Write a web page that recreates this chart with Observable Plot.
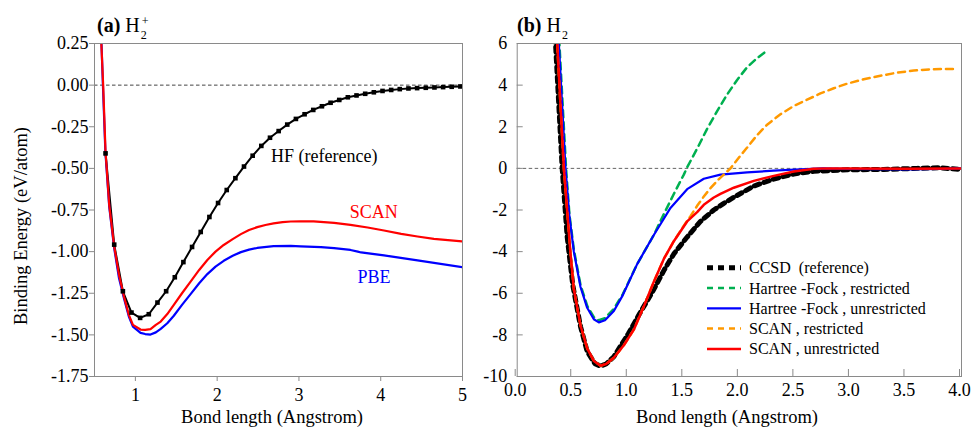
<!DOCTYPE html>
<html><head><meta charset="utf-8">
<script src="https://cdn.jsdelivr.net/npm/d3@7"></script>
<script src="https://cdn.jsdelivr.net/npm/@observablehq/plot@0.6"></script>
<style>
body{margin:0;background:#fff;}
#wrap{position:relative;width:971px;height:430px;font-family:"Liberation Serif","Times New Roman",serif;color:#000;overflow:hidden;background:#fff}
.pan{position:absolute;top:0}
.title{position:absolute;top:15px;font-size:20px;line-height:20px;white-space:nowrap}
.ss{position:relative;display:inline-block;width:9px;height:10px}
.sp{position:absolute;left:2px;bottom:5px;font-size:12px;line-height:12px}
.sb{position:absolute;left:1px;top:7px;font-size:12px;line-height:12px}
.xt{position:absolute;top:407px;width:300px;text-align:center;font-size:18.5px;line-height:20px;white-space:nowrap}
.yt{position:absolute;left:-139px;top:215.5px;width:320px;text-align:center;font-size:18.5px;line-height:20px;transform:rotate(-90deg);white-space:nowrap}
</style></head>
<body>
<div id="wrap">
  <div id="pa" class="pan" style="left:0px"></div>
  <div id="pb" class="pan" style="left:480px"></div>
  <div class="title" style="left:97px"><b>(a)</b> H<span class="ss"><span class="sp">+</span><span class="sb">2</span></span></div>
  <div class="title" style="left:517px"><b>(b)</b> H<span class="ss"><span class="sb">2</span></span></div>
  <div class="xt" style="left:122px">Bond length (Angstrom)</div>
  <div class="xt" style="left:577px">Bond length (Angstrom)</div>
  <div class="yt">Binding Energy (eV/atom)</div>
  <svg id="leg" style="position:absolute;left:0;top:0" width="971" height="430"></svg>
</div>
<script>
// ---------- Panel (a): H2+ ----------
const hfX = [0.635, 0.741, 0.847, 0.952, 1.058, 1.164, 1.270, 1.376, 1.482, 1.587, 1.693, 1.799, 1.905, 2.011, 2.117, 2.223, 2.328, 2.434, 2.540, 2.646, 2.752, 2.857, 2.963, 3.069, 3.175, 3.281, 3.387, 3.493, 3.598, 3.704, 3.810, 3.916, 4.022, 4.128, 4.233, 4.339, 4.445, 4.551, 4.657, 4.763, 4.868, 4.974];
const hfY = [-0.410, -0.958, -1.238, -1.366, -1.398, -1.376, -1.306, -1.238, -1.154, -1.063, -0.972, -0.882, -0.792, -0.708, -0.630, -0.559, -0.489, -0.424, -0.365, -0.316, -0.276, -0.237, -0.203, -0.175, -0.149, -0.127, -0.106, -0.089, -0.073, -0.062, -0.052, -0.043, -0.035, -0.029, -0.024, -0.020, -0.018, -0.016, -0.014, -0.012, -0.010, -0.008];

const scanAX = [0.57, 0.606, 0.635, 0.68, 0.741, 0.80, 0.86, 0.92, 0.97, 1.063, 1.12, 1.185, 1.25, 1.31, 1.39, 1.47, 1.57, 1.675, 1.78, 1.88, 1.98, 2.08, 2.19, 2.29, 2.39, 2.49, 2.59, 2.69, 2.80, 2.90, 3.02, 3.18, 3.43, 3.63, 3.84, 4.04, 4.25, 4.45, 4.65, 5.0];
const scanAY = [0.40, 0.0, -0.40, -0.72, -0.97, -1.14, -1.27, -1.38, -1.44, -1.468, -1.47, -1.466, -1.44, -1.42, -1.375, -1.32, -1.25, -1.18, -1.11, -1.05, -1.00, -0.96, -0.925, -0.895, -0.87, -0.853, -0.84, -0.83, -0.823, -0.819, -0.818, -0.818, -0.827, -0.839, -0.855, -0.873, -0.893, -0.909, -0.923, -0.939];

const pbeX = [0.575, 0.603, 0.633, 0.68, 0.741, 0.80, 0.86, 0.92, 0.97, 1.063, 1.12, 1.185, 1.25, 1.31, 1.39, 1.47, 1.57, 1.675, 1.78, 1.88, 1.98, 2.08, 2.19, 2.29, 2.39, 2.49, 2.69, 2.90, 3.02, 3.27, 3.43, 3.63, 3.72, 3.76, 4.04, 4.45, 5.0];
const pbeY = [0.40, 0.0, -0.40, -0.73, -0.98, -1.16, -1.28, -1.39, -1.45, -1.488, -1.495, -1.498, -1.485, -1.464, -1.43, -1.385, -1.32, -1.255, -1.19, -1.135, -1.09, -1.055, -1.025, -1.003, -0.988, -0.978, -0.967, -0.965, -0.968, -0.973, -0.979, -0.990, -1.000, -1.005, -1.023, -1.053, -1.093];

const xTicksA = [1, 2, 3, 4, 5];
const yTicksA = [-1.75, -1.5, -1.25, -1.0, -0.75, -0.5, -0.25, 0, 0.25];
const seriesLabelsA = ["HF (reference)", "SCAN", "PBE"];

// ---------- Panel (b): H2 ----------
const ccsdX = [0.30, 0.345, 0.405, 0.45, 0.50, 0.57, 0.63, 0.70, 0.75, 0.80, 0.87, 1.00, 1.10, 1.215, 1.32, 1.41, 1.53, 1.65, 1.77, 1.86, 1.95, 2.04, 2.13, 2.31, 2.49, 2.67, 2.97, 3.30, 3.60, 3.80, 4.00];
const ccsdY = [14, 6, 0, -3.3, -5.6, -7.6, -8.8, -9.38, -9.5, -9.4, -9.05, -7.95, -7.0, -5.96, -4.91, -4.11, -3.3, -2.55, -2.0, -1.68, -1.39, -1.12, -0.85, -0.51, -0.27, -0.14, -0.07, -0.05, 0.0, 0.03, -0.05];

const hfRX = [0.32, 0.38, 0.44, 0.47, 0.51, 0.57, 0.63, 0.69, 0.735, 0.79, 0.87, 0.95, 1.08, 1.23, 1.32, 1.41, 1.50, 1.53, 1.62, 1.71, 1.80, 1.89, 1.98, 2.07, 2.16, 2.25];
const hfRY = [12, 6, 0, -2.2, -3.9, -5.6, -6.6, -7.15, -7.3, -7.2, -6.75, -6.05, -4.6, -3.2, -2.2, -1.23, -0.3, 0.05, 0.95, 1.9, 2.75, 3.55, 4.25, 4.86, 5.3, 5.66];

const hfUX = [0.32, 0.375, 0.435, 0.47, 0.51, 0.57, 0.63, 0.69, 0.735, 0.79, 0.87, 0.95, 1.08, 1.23, 1.38, 1.53, 1.68, 1.83, 2.07, 2.31, 2.60, 2.75, 3.00, 3.50, 3.80, 4.00];
const hfUY = [12, 6, 0, -2.3, -4.0, -5.7, -6.7, -7.25, -7.4, -7.3, -6.85, -6.1, -4.6, -3.2, -1.9, -1.0, -0.5, -0.3, -0.19, -0.11, -0.03, 0, -0.03, -0.05, -0.03, 0];

const scanRX = [0.30, 0.36, 0.42, 0.48, 0.51, 0.57, 0.63, 0.69, 0.75, 0.80, 0.87, 0.96, 1.05, 1.15, 1.23, 1.32, 1.41, 1.50, 1.56, 1.62, 1.68, 1.74, 1.80, 1.86, 1.92, 2.00, 2.07, 2.16, 2.25, 2.37, 2.49, 2.61, 2.73, 2.85, 2.97, 3.12, 3.27, 3.42, 3.57, 3.72, 3.85, 3.96];
const scanRY = [14, 6, 0, -4.1, -5.8, -7.55, -8.65, -9.25, -9.48, -9.4, -9.1, -8.5, -7.75, -6.5, -5.45, -4.35, -3.5, -2.75, -2.3, -1.8, -1.35, -0.95, -0.6, -0.3, 0.0, 0.55, 1.0, 1.6, 2.1, 2.6, 3.0, 3.3, 3.6, 3.85, 4.07, 4.28, 4.45, 4.6, 4.7, 4.76, 4.78, 4.78];

const scanUX = [0.30, 0.36, 0.42, 0.48, 0.51, 0.57, 0.63, 0.69, 0.75, 0.80, 0.87, 0.96, 1.05, 1.15, 1.23, 1.32, 1.41, 1.53, 1.62, 1.68, 1.77, 1.83, 1.95, 2.13, 2.31, 2.49, 2.67, 2.80, 3.00, 3.50, 4.00];
const scanUY = [14, 6, 0, -4.1, -5.8, -7.55, -8.65, -9.25, -9.48, -9.4, -9.1, -8.5, -7.75, -6.5, -5.45, -4.35, -3.5, -2.55, -2.1, -1.75, -1.4, -1.23, -0.93, -0.6, -0.36, -0.15, -0.02, 0, 0, -0.02, 0];

const xTicksB = [0, 0.5, 1.0, 1.5, 2.0, 2.5, 3.0, 3.5, 4.0];
const yTicksB = [-10, -8, -6, -4, -2, 0, 2, 4, 6];
const legendLabelsB = ["CCSD  (reference)", "Hartree -Fock , restricted", "Hartree -Fock , unrestricted", "SCAN , restricted", "SCAN , unrestricted"];

// ---------- build ----------
const rows = (xs, ys) => xs.map((x, i) => ({x, y: ys[i]}));
const hf = rows(hfX, hfY), scanA = rows(scanAX, scanAY), pbe = rows(pbeX, pbeY);
const ccsd = rows(ccsdX, ccsdY), hfR = rows(hfRX, hfRY), hfU = rows(hfUX, hfUY), scanR = rows(scanRX, scanRY), scanU = rows(scanUX, scanUY);

const FONT = "'Liberation Serif', 'Times New Roman', serif";
const baseStyle = {fontFamily: FONT, fontSize: "18px", color: "black", background: "transparent", overflow: "visible"};
const frameColor = "#8a8a8a";

const nearest = (arr, x) => arr.reduce((a, b) => Math.abs(b.x - x) < Math.abs(a.x - x) ? b : a);

const plotA = Plot.plot({
  width: 480, height: 430,
  marginLeft: 94, marginRight: 18, marginTop: 43, marginBottom: 54,
  style: baseStyle,
  x: {domain: [0.5, 5]},
  y: {domain: [-1.75, 0.25]},
  marks: [
    Plot.ruleY([0], {stroke: "#444", strokeWidth: 1, strokeDasharray: "3.5,2.5"}),
    Plot.line(hf, {x: "x", y: "y", stroke: "black", strokeWidth: 2, clip: true}),
    Plot.line(pbe, {x: "x", y: "y", stroke: "#0000ff", strokeWidth: 2.2, clip: true}),
    Plot.line(scanA, {x: "x", y: "y", stroke: "#ff0000", strokeWidth: 2.2, clip: true}),
    Plot.dot(hf, {x: "x", y: "y", symbol: "square", r: 2.6, fill: "black", stroke: null, clip: true}),
    Plot.text([nearest(hf, 2.646)], {x: "x", y: "y", text: () => seriesLabelsA[0], textAnchor: "start", dx: 1, dy: 18, fill: "black", fontSize: 18}),
    Plot.text([nearest(scanA, 3.84)], {x: "x", y: "y", text: () => seriesLabelsA[1], textAnchor: "middle", dx: 6, dy: -15, fill: "#ff0000", fontSize: 18}),
    Plot.text([nearest(pbe, 3.76)], {x: "x", y: "y", text: () => seriesLabelsA[2], textAnchor: "middle", dx: 13, dy: 25, fill: "#0000ff", fontSize: 18}),
    Plot.frame({stroke: frameColor}),
    Plot.axisX({ticks: xTicksA, tickSize: 5, tickPadding: 7, tickFormat: d => String(d), label: null, stroke: frameColor}),
    Plot.axisY({ticks: yTicksA, tickSize: 5, tickPadding: 1, tickFormat: d => d.toFixed(2), label: null, stroke: frameColor})
  ]
});
document.getElementById("pa").appendChild(plotA);

const plotB = Plot.plot({
  width: 491, height: 430,
  marginLeft: 36.7, marginRight: 10, marginTop: 43, marginBottom: 54,
  style: baseStyle,
  x: {domain: [0, 4]},
  y: {domain: [-10, 6]},
  marks: [
    Plot.ruleY([0], {stroke: "#666", strokeWidth: 1, strokeDasharray: "3.5,2.5"}),
    Plot.line(ccsd, {x: "x", y: "y", stroke: "black", strokeWidth: 5, strokeDasharray: "5.5,4.5", clip: true}),
    Plot.line(hfR, {x: "x", y: "y", stroke: "#00b050", strokeWidth: 2.5, strokeDasharray: "7,5", clip: true}),
    Plot.line(hfU, {x: "x", y: "y", stroke: "#0000ff", strokeWidth: 2.2, clip: true}),
    Plot.line(scanR, {x: "x", y: "y", stroke: "#ff9900", strokeWidth: 2.5, strokeDasharray: "7,5", clip: true}),
    Plot.line(scanU, {x: "x", y: "y", stroke: "#ff0000", strokeWidth: 2.5, clip: true}),
    Plot.frame({stroke: frameColor}),
    Plot.axisX({ticks: xTicksB, tickSize: -7, tickPadding: 14, tickFormat: d => d.toFixed(1), label: null, stroke: frameColor, dx: -2}),
    Plot.axisY({ticks: yTicksB, tickSize: -6, tickPadding: 16, tickFormat: d => String(d), label: null, stroke: frameColor})
  ]
});
document.getElementById("pb").appendChild(plotB);

// ---------- legend for panel (b) ----------
const legendStyles = [
  {stroke: "black", width: 5, dash: "6,5"},
  {stroke: "#00b050", width: 2.5, dash: "6,5"},
  {stroke: "#0000ff", width: 2.2, dash: null},
  {stroke: "#ff9900", width: 2.5, dash: "6,5"},
  {stroke: "#ff0000", width: 2.5, dash: null}
];
const leg = d3.select("#leg");
legendLabelsB.forEach((lab, i) => {
  const cy = 267.7 + i * 20.3;
  const s = legendStyles[i];
  leg.append("line").attr("x1", 707).attr("x2", 741).attr("y1", cy).attr("y2", cy)
    .attr("stroke", s.stroke).attr("stroke-width", s.width).attr("stroke-dasharray", s.dash);
  leg.append("text").attr("x", 749).attr("y", cy + 5.5).attr("font-family", FONT).attr("font-size", 16)
    .attr("xml:space", "preserve").style("white-space", "pre").text(lab);
});
</script>
</body></html>
